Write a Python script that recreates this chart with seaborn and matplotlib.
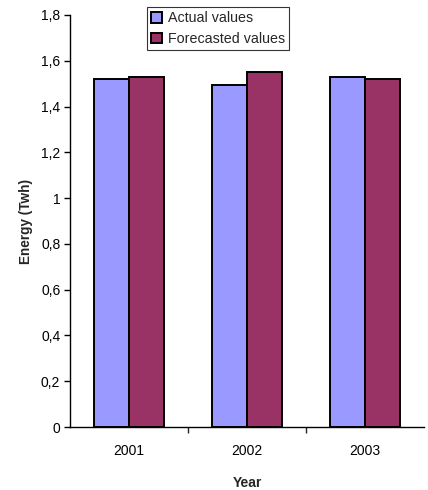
import pandas as pd
import numpy as np
import matplotlib
matplotlib.use("Agg")
import matplotlib.pyplot as plt
import seaborn as sns
from matplotlib.ticker import FuncFormatter, FixedLocator

# data
years = ["2001", "2002", "2003"]
actual = [1.52, 1.495, 1.53]
forecast = [1.53, 1.55, 1.52]
series_names = ["Actual values", "Forecasted values"]

df = pd.DataFrame({
    "Year": years * 2,
    "Energy": actual + forecast,
    "Series": [series_names[0]] * 3 + [series_names[1]] * 3,
})

sns.set_style("white")
plt.rcParams['font.family'] = ['Liberation Sans', 'DejaVu Sans']

fig = plt.figure(figsize=(4.28, 4.9), dpi=100)
ax = fig.add_axes([70 / 428, 1 - 427 / 490, 354 / 428, 412 / 490])

sns.barplot(data=df, x="Year", y="Energy", hue="Series",
            palette=["#9999FF", "#993366"], width=0.6,
            edgecolor="black", linewidth=1.4, saturation=1, ax=ax)

ax.set_xlim(-0.5, 2.5)
ax.set_ylim(0, 1.8)
ax.set_yticks(np.arange(0, 1.81, 0.2))
ax.yaxis.set_major_formatter(FuncFormatter(
    lambda v, p: "0" if abs(v) < 1e-9 else (f"{v:.1f}".rstrip("0").rstrip(".")).replace(".", ",")))
ax.tick_params(axis="both", labelsize=10, colors="black")
ax.tick_params(axis="y", direction="out", length=4, width=1, left=True, pad=3)
ax.tick_params(axis="x", which="major", length=0, pad=12)
ax.xaxis.set_minor_locator(FixedLocator([0.5, 1.5]))
ax.tick_params(axis="x", which="minor", direction="out", length=4, width=1, bottom=True)

for s in ["top", "right"]:
    ax.spines[s].set_visible(False)
for s in ["left", "bottom"]:
    ax.spines[s].set_color("black")
    ax.spines[s].set_linewidth(1)

ax.set_xlabel("Year", fontsize=10, fontweight="bold", labelpad=13)
ax.set_ylabel("Energy (Twh)", fontsize=9.8, fontweight="bold", labelpad=6)

leg = ax.legend(loc="upper left", bbox_to_anchor=(77 / 354, 1 + 8 / 412), fontsize=10.3,
                frameon=True, fancybox=False, edgecolor="black", handlelength=0.75,
                handleheight=0.75, handletextpad=0.4, borderpad=0.3, labelspacing=0.45,
                borderaxespad=0)
leg.get_frame().set_linewidth(0.8)

fig.savefig("out.png", dpi=100)
